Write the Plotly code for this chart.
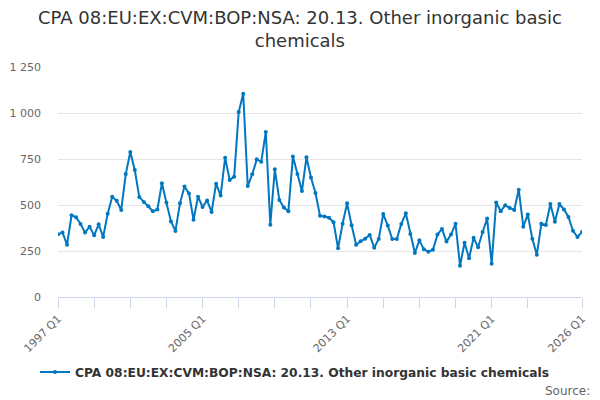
import plotly.graph_objects as go

# quarterly values, 1997 Q1 .. 2026 Q1
VALUES = [
    341, 350, 284, 444, 433, 397, 350, 382, 335, 395, 326, 453,
    545, 523, 473, 668, 788, 690, 543, 516, 493, 466, 475, 618,
    513, 411, 359, 509, 601, 563, 420, 545, 489, 525, 462, 616,
    551, 757, 636, 654, 1005, 1105, 603, 667, 748, 735, 897, 393,
    694, 527, 486, 466, 763, 668, 576, 759, 649, 565, 442, 438,
    431, 406, 265, 398, 509, 390, 284, 303, 317, 337, 268, 315,
    451, 388, 315, 315, 397, 455, 342, 239, 308, 259, 246, 257,
    339, 370, 301, 339, 398, 170, 295, 210, 322, 270, 353, 426,
    181, 514, 466, 498, 484, 473, 583, 382, 449, 317, 230, 398,
    391, 505, 409, 505, 476, 435, 360, 326, 353,
]
QUARTERS = ["%d Q%d" % (1997 + i // 4, i % 4 + 1) for i in range(len(VALUES))]

SERIES_NAME = "CPA 08:EU:EX:CVM:BOP:NSA: 20.13. Other inorganic basic chemicals"
TITLE = "CPA 08:EU:EX:CVM:BOP:NSA: 20.13. Other inorganic basic<br>chemicals"

Y_TICKS = [0, 250, 500, 750, 1000, 1250]
Y_LABELS = ["0", "250", "500", "750", "1 000", "1 250"]

LAST = len(VALUES) - 1
X_TICKS = list(range(0, 105, 8)) + [LAST]
X_LABELS = [QUARTERS[i] if i in (0, 32, 64, 96, LAST) else "" for i in X_TICKS]

LINE_COLOR = "#0077c0"

# page body has an 8px margin, so the figure is drawn 8px smaller
W, H = 592, 392
ML, MR, MT, MB = 50, 18, 59, 103
PLOT_W = W - ML - MR
PLOT_H = H - MT - MB


def px_x(p):
    return (p - ML) / PLOT_W


def px_y(p):
    return (H - MB - p) / PLOT_H


fig = go.Figure()
fig.add_trace(go.Scatter(
    x=list(range(len(VALUES))),
    y=VALUES,
    mode="lines+markers",
    name="<b>" + SERIES_NAME + "</b>",
    line=dict(color=LINE_COLOR, width=2),
    marker=dict(color=LINE_COLOR, size=4),
    text=QUARTERS,
    hovertemplate="%{text}: %{y}<extra></extra>",
))

annotations = [
    dict(
        text=TITLE, xref="paper", yref="paper",
        x=px_x(292), y=px_y(21.5), xanchor="center", yanchor="middle",
        showarrow=False, font=dict(size=18, color="#333333"),
    ),
    dict(
        text="Source:", xref="paper", yref="paper",
        x=px_x(584), y=px_y(383), xanchor="right", yanchor="middle",
        showarrow=False, font=dict(size=12, color="#666666"),
    ),
]

fig.update_layout(
    width=W,
    height=H,
    paper_bgcolor="white",
    plot_bgcolor="white",
    font=dict(family="DejaVu Sans", color="#333333"),
    margin=dict(l=ML, r=MR, t=MT, b=MB, pad=0, autoexpand=False),
    showlegend=True,
    legend=dict(
        orientation="h",
        x=px_x(27),
        xanchor="left",
        y=px_y(364),
        yanchor="middle",
        itemwidth=30,
        font=dict(size=12.25, color="#333333"),
    ),
    xaxis=dict(
        range=[0, LAST],
        tickvals=X_TICKS,
        ticktext=X_LABELS,
        tickangle=-45,
        ticks="outside",
        ticklen=10,
        tickcolor="#ccd6eb",
        showline=True,
        linecolor="#ccd6eb",
        showgrid=False,
        zeroline=False,
        automargin=False,
        tickfont=dict(size=11, color="#666666"),
    ),
    yaxis=dict(
        range=[0, 1250],
        tickvals=Y_TICKS,
        ticktext=Y_LABELS,
        showgrid=True,
        gridcolor="#e6e6e6",
        zeroline=False,
        ticks="",
        automargin=False,
        ticklabelstandoff=16,
        tickfont=dict(size=11, color="#666666"),
    ),
    annotations=annotations,
)

fig.write_html("out.html")
